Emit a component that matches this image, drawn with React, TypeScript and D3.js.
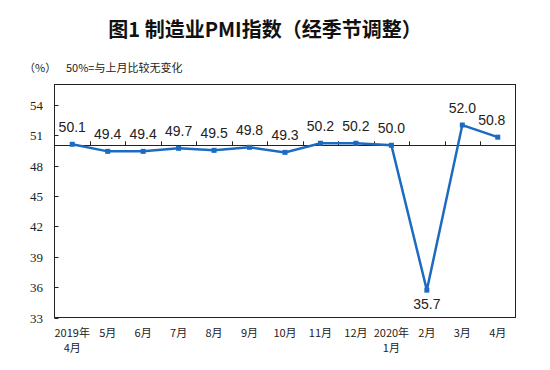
import React from "react";
import * as d3 from "d3";

const categories = ["2019年\n4月", "5月", "6月", "7月", "8月", "9月", "10月", "11月", "12月", "2020年\n1月", "2月", "3月", "4月"];
const pmiValues = [50.1, 49.4, 49.4, 49.7, 49.5, 49.8, 49.3, 50.2, 50.2, 50.0, 35.7, 52.0, 50.8];
const yTicks = [33, 36, 39, 42, 45, 48, 51, 54];
const baseline = 50;
const title = "图1 制造业PMI指数（经季节调整）";
const unitLabel = "（%）";
const note = "50%=与上月比较无变化";

export default function App() {
  const W = 550, H = 370;
  const left = 54.5, right = 515.5, top = 84.5, bottom = 317.5;
  const x = d3.scaleBand<number>().domain(d3.range(categories.length)).range([left, right]);
  const y = d3.scaleLinear().domain([33, 56]).range([bottom, top]);
  const cx = (i: number) => (x(i) as number) + x.bandwidth() / 2;
  const line = d3.line<number>().x((_, i) => cx(i)).y((d) => y(d));
  const color = "#1c6bc0";
  const y50 = y(baseline);
  const cjk = "'Noto Sans CJK SC', sans-serif";
  return (
    <svg width={W} height={H} style={{ position: "absolute", left: 0, top: 0, background: "#fff" }}>
      <text x={265} y={37} textAnchor="middle" fontFamily={cjk} fontWeight="bold" fontSize={20} fill="#111">{title}</text>
      <text x={24} y={72} fontFamily={cjk} fontSize={11} fill="#222">{unitLabel}</text>
      <text x={66} y={72} fontFamily={cjk} fontSize={11} fill="#222">{note}</text>
      <rect x={left} y={top} width={right - left} height={bottom - top} fill="none" stroke="#222" strokeWidth={1} />
      {yTicks.map((t) => (
        <g key={t}>
          <line x1={left} x2={left + 4} y1={Math.round(y(t)) + 0.5} y2={Math.round(y(t)) + 0.5} stroke="#222" />
          <text x={43} y={y(t) + 5} textAnchor="end" fontFamily="'Liberation Serif', serif" fontSize={13} fill="#222">{t}</text>
        </g>
      ))}
      <line x1={left} x2={right} y1={Math.round(y50) + 0.5} y2={Math.round(y50) + 0.5} stroke="#222" strokeWidth={1} />
      {d3.range(1, categories.length).map((i) => (
        <line key={i} x1={Math.round(x(i) as number) + 0.5} x2={Math.round(x(i) as number) + 0.5} y1={y50} y2={y50 - 4} stroke="#222" />
      ))}
      <path d={line(pmiValues) || ""} fill="none" stroke={color} strokeWidth={2.5} strokeLinejoin="miter" />
      {pmiValues.map((v, i) => (
        <rect key={i} x={cx(i) - 2.5} y={y(v) - 2.5} width={5} height={5} fill={color} />
      ))}
      {pmiValues.map((v, i) => {
        const below = v < 40;
        const dx = i === pmiValues.length - 1 ? -6 : 0;
        return (
          <text key={i} x={cx(i) + dx} y={below ? y(v) + 19 : y(v) - 12} textAnchor="middle" fontFamily="'Liberation Sans', Arial, sans-serif" fontSize={14} fill="#222">{v.toFixed(1)}</text>
        );
      })}
      {categories.map((c, i) => (
        <text key={i} x={cx(i)} y={337} textAnchor="middle" fontFamily={cjk} fontSize={11} fill="#222">
          {c.split("\n").map((s, j) => (
            <tspan key={j} x={cx(i)} dy={j === 0 ? 0 : 15}>{s}</tspan>
          ))}
        </text>
      ))}
    </svg>
  );
}
